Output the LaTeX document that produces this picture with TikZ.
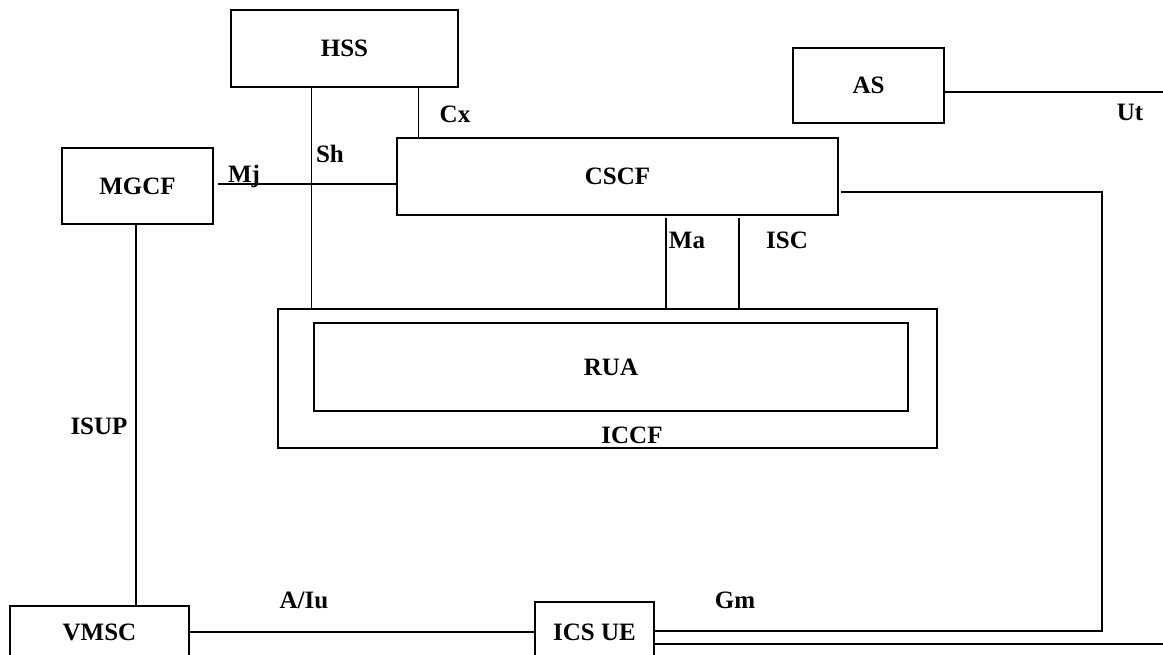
\documentclass[tikz,border=0pt]{standalone}
\usepackage{fontspec}
\setmainfont{Liberation Serif}
\usetikzlibrary{calc}
\begin{document}
\begin{tikzpicture}[x=1pt,y=-1pt,
  every node/.style={font=\fontsize{25}{30}\selectfont\bfseries},
  box/.style={draw, line width=1.2pt, inner sep=0pt},
  lbl/.style={inner sep=0pt, anchor=base},
  link/.style={line width=1.2pt}]
\useasboundingbox (0,0) rectangle (1163,654);
\clip (0,0) rectangle (1163,654);

% network elements
\node[box, minimum width=227pt, minimum height=77pt] (HSS) at (344.5,48.5) {HSS};
\node[box, minimum width=151pt, minimum height=75pt] (AS) at (868.5,85.5) {AS};
\node[box, minimum width=441pt, minimum height=77pt] (CSCF) at (617.5,176.5) {CSCF};
\node[box, minimum width=151pt, minimum height=76pt] (MGCF) at (137.5,186) {MGCF};
\node[box, minimum width=659pt, minimum height=139pt] (ICCF) at (607.5,378.5) {};
\node[box, minimum width=594pt, minimum height=88pt] (RUA) at (611,367) {RUA};
\node[box, minimum width=179pt, minimum height=52pt] (VMSC) at (99.5,632) {VMSC};
\node[box, minimum width=119pt, minimum height=60pt] (ICSUE) at (594.5,632) {ICS UE};

% free ends and bends
\coordinate (mjStart) at (218,184);
\coordinate (maTop) at (666,218);
\coordinate (iscTop) at (739,218);
\coordinate (utEnd) at (1163,92);
\coordinate (gmCorner) at (1102,631);
\coordinate (lowEnd) at (1163,644);

% reference points
\draw[link] ($(HSS.south west)+(81,0)$) coordinate (shTop) -- (shTop |- ICCF.north);
\draw[link] ($(HSS.south west)+(188,0)$) coordinate (cxTop) -- (cxTop |- CSCF.north);
\draw[link] (mjStart) -- (mjStart -| CSCF.west);
\draw[link] (maTop) -- (maTop |- ICCF.north);
\draw[link] (iscTop) -- (iscTop |- ICCF.north);
\draw[link] (AS.east |- utEnd) -- (utEnd);
\draw[link] ($(CSCF.east)+(2,15.5)$) coordinate (gmStart)
  -- (gmStart -| gmCorner) -- (gmCorner) -- (gmCorner -| ICSUE.east);
\draw[link] ($(ICSUE.east)+(-1,12)$) -- (lowEnd);
\draw[link] ($(MGCF.south)+(-1.5,0)$) coordinate (isupTop) -- (isupTop |- VMSC.north);
\draw[link] (VMSC.east) -- (VMSC.east -| ICSUE.west);

% interface labels
\node[lbl] (lCx) at (455,122) {Cx};
\node[lbl] (lSh) at (330,162) {Sh};
\node[lbl] (lMj) at (244,182) {Mj};
\node[lbl] (lMa) at (687,248) {Ma};
\node[lbl] (lISC) at (787,248) {ISC};
\node[lbl] (lUt) at (1130,120) {Ut};
\node[lbl] (lISUP) at (99,434) {ISUP};
\node[lbl] (lAIu) at (304,608) {A/Iu};
\node[lbl] (lGm) at (735,608) {Gm};
\node[lbl] (lICCF) at (632,443) {ICCF};
\end{tikzpicture}
\end{document}
